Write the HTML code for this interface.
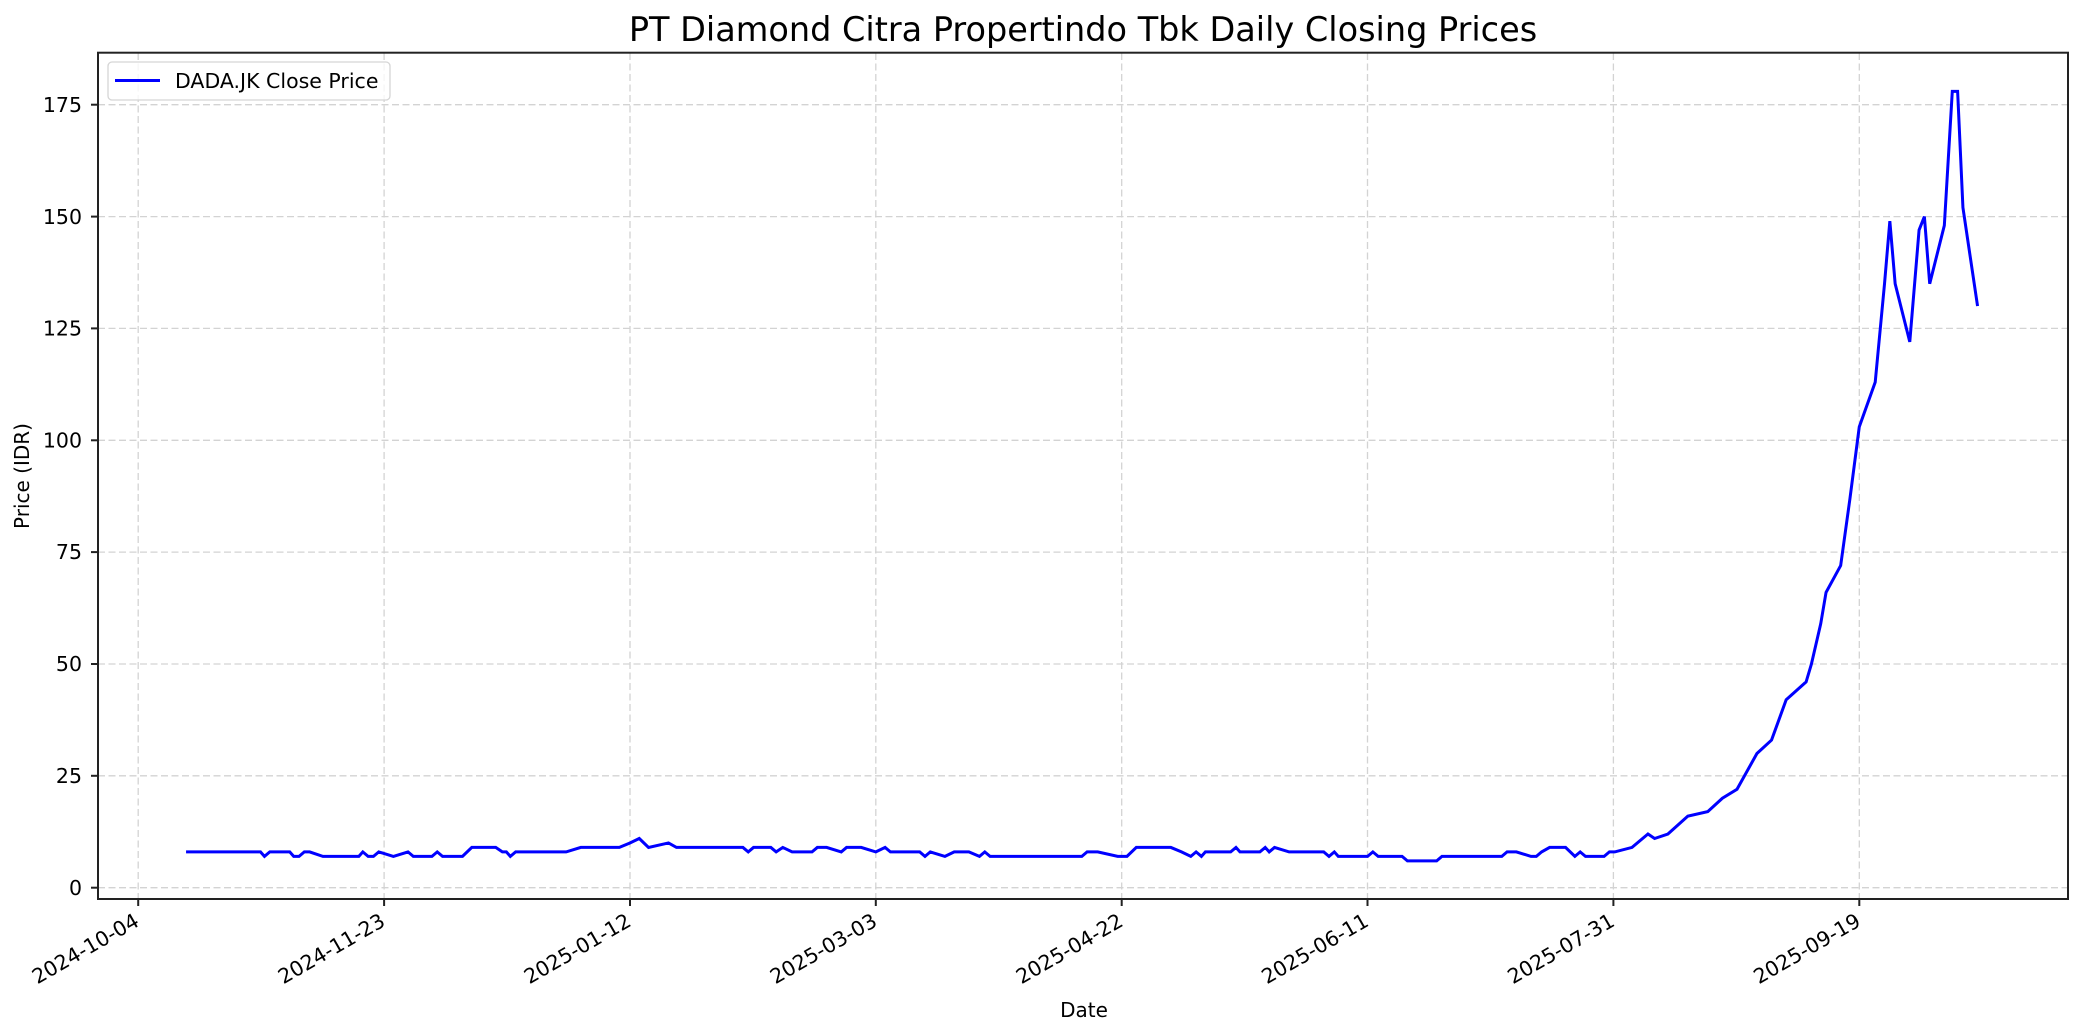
<!DOCTYPE html>
<html><head><meta charset="utf-8"><style>
html,body{margin:0;padding:0;background:#fff;}
svg{display:block;font-family:"DejaVu Sans","Liberation Sans",sans-serif;}
</style></head><body>
<svg width="2084" height="1035" viewBox="0 0 2084 1035" xmlns="http://www.w3.org/2000/svg">
<rect width="2084" height="1035" fill="#fff"/>
<text x="1083" y="41" font-size="33.5" text-anchor="middle" fill="#000">PT Diamond Citra Propertindo Tbk Daily Closing Prices</text>
<g stroke="#d3d3d3" stroke-width="1.3" stroke-dasharray="7,3.5">
<line x1="98" x2="2068" y1="887.7" y2="887.7"/>
<line x1="98" x2="2068" y1="775.8" y2="775.8"/>
<line x1="98" x2="2068" y1="664" y2="664"/>
<line x1="98" x2="2068" y1="552.1" y2="552.1"/>
<line x1="98" x2="2068" y1="440.3" y2="440.3"/>
<line x1="98" x2="2068" y1="328.4" y2="328.4"/>
<line x1="98" x2="2068" y1="216.6" y2="216.6"/>
<line x1="98" x2="2068" y1="104.7" y2="104.7"/>
<line y1="53" y2="899" x1="138.2" x2="138.2"/>
<line y1="53" y2="899" x1="384.1" x2="384.1"/>
<line y1="53" y2="899" x1="630" x2="630"/>
<line y1="53" y2="899" x1="875.8" x2="875.8"/>
<line y1="53" y2="899" x1="1121.7" x2="1121.7"/>
<line y1="53" y2="899" x1="1367.5" x2="1367.5"/>
<line y1="53" y2="899" x1="1613.4" x2="1613.4"/>
<line y1="53" y2="899" x1="1859.3" x2="1859.3"/>
</g>
<g transform="matrix(1.329 0 0 -4.474 0 887.7)">
<polyline fill="none" stroke="#0000ff" stroke-width="3" vector-effect="non-scaling-stroke" stroke-linejoin="miter" points="
140,8 196,8 199,7 203,8 218,8 221,7 225,7 229,8 233,8 243,7 270,7 273,8 277,7 281,7 285,8 296,7 307,8 311,7 325,7 329,8 333,7 348,7 355,9 373,9 378,8 381,8 384,7 388,8 426,8 437,9 466,9 474,10 481,11 488,9 503,10 509,9 559,9 563,8 567,9 580,9 584,8 589,9 596,8 611,8 615,9 622,9 633,8 637,9 648,9 659,8 666,9 670,8 692,8 696,7 700,8 711,7 718,8 729,8 737,7 741,8 745,7 814,7 818,8 826,8 841,7 848,7 855,9 881,9 889,8 896,7 900,8 904,7 907,8 926,8 930,9 933,8 948,8 952,9 955,8 959,9 970,8 996,8 1000,7 1004,8 1007,7 1029,7 1033,8 1037,7 1055,7 1059,6 1081,6 1085,7 1130,7 1134,8 1141,8 1152,7 1156,7 1160,8 1166,9 1178,9 1185,7 1189,8 1193,7 1207,7 1211,8 1215,8 1228,9 1240,12 1245,11 1255,12 1270,16 1285,17 1296,20 1307,22 1322,30 1333,33 1344,42 1359,46 1363,50 1370,59 1374,66 1385,72 1392,87 1399,103 1411,113 1418,135 1422,149 1426,135 1437,122 1444,147 1448,150 1452,135 1463,148 1469,178 1473,178 1477,152 1488,130"/>
</g>
<rect x="98" y="52.7" width="1970" height="846.3" fill="none" stroke="#222" stroke-width="2"/>
<g stroke="#222" stroke-width="2">
<line x1="91" x2="98" y1="887.7" y2="887.7"/><line x1="91" x2="98" y1="775.8" y2="775.8"/><line x1="91" x2="98" y1="664" y2="664"/><line x1="91" x2="98" y1="552.1" y2="552.1"/><line x1="91" x2="98" y1="440.3" y2="440.3"/><line x1="91" x2="98" y1="328.4" y2="328.4"/><line x1="91" x2="98" y1="216.6" y2="216.6"/><line x1="91" x2="98" y1="104.7" y2="104.7"/>
<line y1="899" y2="906" x1="138.2" x2="138.2"/><line y1="899" y2="906" x1="384.1" x2="384.1"/><line y1="899" y2="906" x1="630" x2="630"/><line y1="899" y2="906" x1="875.8" x2="875.8"/><line y1="899" y2="906" x1="1121.7" x2="1121.7"/><line y1="899" y2="906" x1="1367.5" x2="1367.5"/><line y1="899" y2="906" x1="1613.4" x2="1613.4"/><line y1="899" y2="906" x1="1859.3" x2="1859.3"/>
</g>
<g font-size="20.5" text-anchor="end" fill="#000">
<text x="82" y="895">0</text><text x="82" y="783">25</text><text x="82" y="671">50</text><text x="82" y="559">75</text><text x="82" y="447.5">100</text><text x="82" y="335.5">125</text><text x="82" y="223.8">150</text><text x="82" y="112">175</text>
</g>
<g font-size="20.5" text-anchor="end" fill="#000">
<text transform="translate(133,912) rotate(-30) translate(0,15)">2024-10-04</text>
<text transform="translate(379,912) rotate(-30) translate(0,15)">2024-11-23</text>
<text transform="translate(625,912) rotate(-30) translate(0,15)">2025-01-12</text>
<text transform="translate(871,912) rotate(-30) translate(0,15)">2025-03-03</text>
<text transform="translate(1117,912) rotate(-30) translate(0,15)">2025-04-22</text>
<text transform="translate(1362.5,912) rotate(-30) translate(0,15)">2025-06-11</text>
<text transform="translate(1608.5,912) rotate(-30) translate(0,15)">2025-07-31</text>
<text transform="translate(1854.5,912) rotate(-30) translate(0,15)">2025-09-19</text>
</g>
<text x="1084" y="1017" font-size="20" text-anchor="middle">Date</text>
<text transform="translate(29,476) rotate(-90)" font-size="20" text-anchor="middle">Price (IDR)</text>
<rect x="108" y="62" width="282" height="38" rx="4" fill="#fff" fill-opacity="0.8" stroke="#d5d5d5" stroke-width="1.3"/>
<line x1="115" x2="160" y1="80.5" y2="80.5" stroke="#0000ff" stroke-width="3"/>
<text x="175" y="88" font-size="20.5">DADA.JK Close Price</text>
</svg>
</body></html>
